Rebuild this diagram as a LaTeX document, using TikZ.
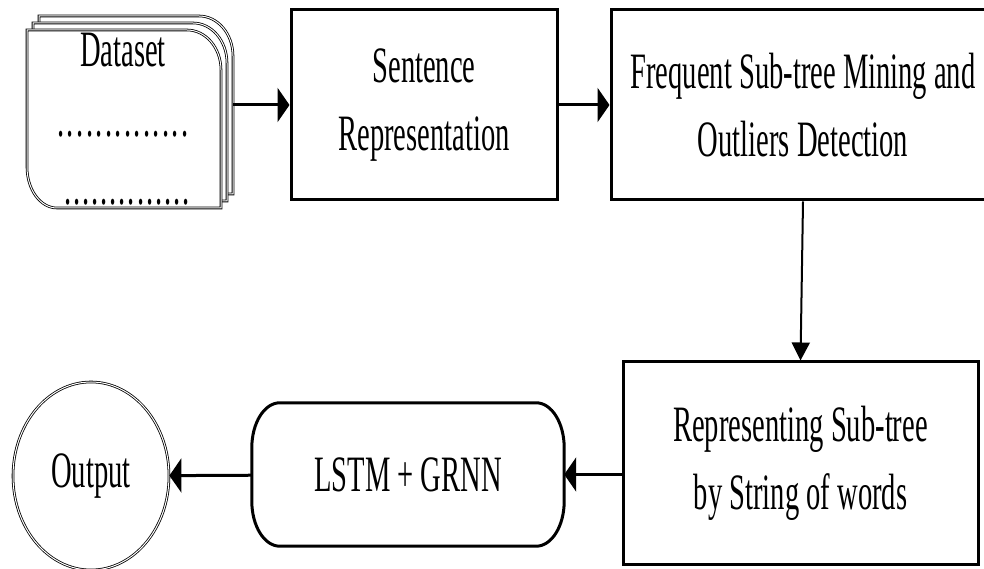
\documentclass[tikz,border=0pt]{standalone}
\usepackage{fontspec}
\setmainfont{Liberation Serif}[FakeStretch=0.56]
\usepackage{tikz}
\usetikzlibrary{shapes.geometric, arrows.meta, positioning}

\begin{document}
\begin{tikzpicture}[
  x=1pt, y=1pt,
  node distance=51pt,
  every node/.style={font=\fontsize{51}{68}\selectfont, inner sep=0pt},
  proc/.style={rectangle, draw, line width=3pt, align=center},
  term/.style={rectangle, align=center},
  outnode/.style={ellipse, draw, double, double distance=1pt, line width=0.8pt},
  sheet/.style={draw, double, double distance=1pt, line width=0.8pt, fill=white},
  flow/.style={line width=3pt, -{Triangle[length=12pt,width=34pt]}},
  vflow/.style={line width=2pt, -{Triangle[length=18pt,width=18pt]}}
]
\useasboundingbox (0,0) rectangle (984,569);

% Dataset stack
\foreach \dx/\dy in {12/14, 6/7, 0/0} {
  \draw[sheet, shift={(\dx,\dy)}] (27,539) -- (187,539)
    arc[start angle=90, end angle=0, x radius=34, y radius=40] -- (221,361) -- (57,361)
    arc[start angle=270, end angle=180, x radius=30, y radius=41] -- cycle;
}
\node[anchor=base] (data) at (123,502) {Dataset};
\node[anchor=base] (dots) at (123,432) {\hbox to 134pt{\xleaders\hbox to 9pt{\hss.\hss}\hfill}};
\node[anchor=base] (dotsb) at (127,364) {\hbox to 127pt{\xleaders\hbox to 9pt{\hss.\hss}\hfill}};
\coordinate (dataout) at (233,464);

% Nodes
\node[proc, minimum width=266, minimum height=190] (sent) at (424,464) {Sentence\\Representation};
\node[proc, minimum width=384, minimum height=190, right=of sent] (freq) {Frequent Sub-tree Mining and\\Outliers Detection};
\node[proc, minimum width=355, minimum height=203] (rep) at (800.5,105.5) {Representing Sub-tree\\by String of words};
\node[term, minimum width=312, minimum height=143] (lstm) at (408,94.5) {LSTM + GRNN};
\node[outnode, minimum width=156, minimum height=188] (out) at (91,93) {Output};

% LSTM outline
\draw[line width=3pt] ([xshift=28pt]lstm.north west) -- ([xshift=-28pt]lstm.north east)
  arc[start angle=90, end angle=0, x radius=28, y radius=45] -- ([yshift=45pt]lstm.south east)
  arc[start angle=0, end angle=-90, x radius=28, y radius=45] -- ([xshift=28pt]lstm.south west)
  arc[start angle=270, end angle=180, x radius=28, y radius=45] -- ([yshift=-45pt]lstm.north west)
  arc[start angle=180, end angle=90, x radius=28, y radius=45] -- cycle;

% Arrows
\draw[flow] (dataout) -- (sent.west);
\draw[flow] (sent) -- (freq);
\draw[vflow] (freq.south) -- (rep.north);
\draw[flow] (rep.west |- lstm.east) -- (lstm.east);
\draw[flow] (lstm) -- (out);

\end{tikzpicture}
\end{document}
